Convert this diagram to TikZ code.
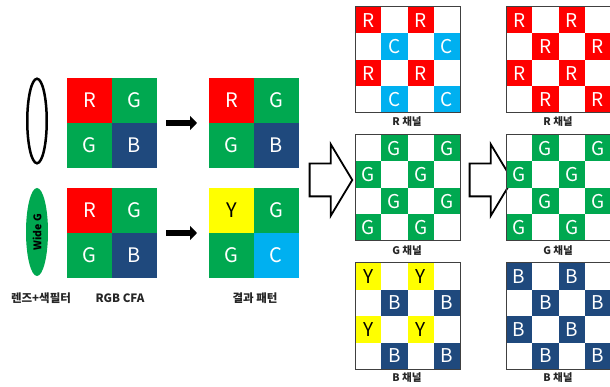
\documentclass[tikz,border=0pt]{standalone}
\usepackage{fontspec}
\setmainfont{Noto Sans CJK KR}
\usetikzlibrary{shapes.geometric,shapes.arrows,arrows.meta}
\definecolor{cR}{RGB}{255,0,0}
\definecolor{cG}{RGB}{0,168,80}
\definecolor{cB}{RGB}{31,73,125}
\definecolor{cY}{RGB}{255,255,0}
\definecolor{cC}{RGB}{0,176,240}
\definecolor{frame}{RGB}{64,64,64}
\tikzset{
  bigcell/.style={minimum width=45pt,minimum height=45pt,inner sep=0pt,outer sep=0pt,
    anchor=north west,font=\fontsize{20}{20}\selectfont},
  smallcell/.style={minimum width=26.25pt,minimum height=26.5pt,inner sep=0pt,outer sep=0pt,
    anchor=north west,font=\fontsize{19}{19}\selectfont},
  blockbox/.style={minimum width=90pt,minimum height=90pt,inner sep=0pt,outer sep=0pt,anchor=north west},
  gridbox/.style={minimum width=105pt,minimum height=106pt,inner sep=0pt,outer sep=0pt,anchor=north west},
  gridborder/.style={draw=frame,line width=1pt},
  blackarrow/.style={line width=6pt,-{Triangle[length=7pt,width=14pt]},shorten <=9pt,shorten >=12pt},
  hollowarrow/.style={single arrow,draw=black,fill=white,line width=1.8pt,inner sep=15.5pt,
    single arrow head extend=19.5pt,single arrow tip angle=118,minimum height=38pt},
  lbl/.style={font=\bfseries\fontsize{11.5}{12}\selectfont,text=black!85,inner sep=0pt},
  chlbl/.style={font=\bfseries\fontsize{10.5}{11}\selectfont,text=black!85,inner sep=0pt},
}
\newcommand\chgrid[4]{%
  \node[gridbox] (#1) at (#2,#3) {};
  \foreach \c/\r/\col/\l/\tc in {#4}{%
    \node[smallcell,fill=\col,text=\tc] (#1-\c-\r) at ({#2+(\c-1)*26.25},{#3+(\r-1)*26.5}) {\l};
  }
  \draw[gridborder] (#1.north west) rectangle (#1.south east);
}
\begin{document}
\begin{tikzpicture}[x=1pt,y=-1pt]
\useasboundingbox (0,0) rectangle (610,387);
\clip (0,0) rectangle (610,387);
\fill[white] (0,0) rectangle (610,387);
% lenses
\node[ellipse,draw=black,line width=2.5pt,minimum width=19.5pt,minimum height=84.5pt,inner sep=0pt] (lens1) at (37,121) {};
\node[ellipse,fill=cG,minimum width=22pt,minimum height=88pt,inner sep=0pt] (lens2) at (37,232) {};
\node[rotate=90,font=\bfseries\fontsize{10.5}{11}\selectfont,inner sep=0pt] (widet) at (lens2.center) {Wide G};
% CFA blocks
\node[blockbox] (cfa1) at (67,78) {};
\node[bigcell,fill=cR,text=white] (cfa1-11) at (67,78) {R};
\node[bigcell,fill=cG,text=white] (cfa1-12) at (112,78) {G};
\node[bigcell,fill=cG,text=white] (cfa1-21) at (67,123) {G};
\node[bigcell,fill=cB,text=white] (cfa1-22) at (112,123) {B};
\node[blockbox] (cfa2) at (67,188) {};
\node[bigcell,fill=cR,text=white] (cfa2-11) at (67,188) {R};
\node[bigcell,fill=cG,text=white] (cfa2-12) at (112,188) {G};
\node[bigcell,fill=cG,text=white] (cfa2-21) at (67,233) {G};
\node[bigcell,fill=cB,text=white] (cfa2-22) at (112,233) {B};
% result blocks
\node[blockbox] (res1) at (209,78) {};
\node[bigcell,fill=cR,text=white] (res1-11) at (209,78) {R};
\node[bigcell,fill=cG,text=white] (res1-12) at (253.5,78) {G};
\node[bigcell,fill=cG,text=white] (res1-21) at (209,123) {G};
\node[bigcell,fill=cB,text=white] (res1-22) at (253.5,123) {B};
\node[blockbox] (res2) at (209,188) {};
\node[bigcell,fill=cY,text=black] (res2-11) at (209,188) {Y};
\node[bigcell,fill=cG,text=white] (res2-12) at (253.5,188) {G};
\node[bigcell,fill=cG,text=white] (res2-21) at (209,233) {G};
\node[bigcell,fill=cC,text=white] (res2-22) at (253.5,233) {C};
% black arrows
\draw[blackarrow] (cfa1) -- (res1);
\draw[blackarrow] (cfa2) -- (res2);
% bottom labels
\node[lbl] (t1) at (41,298) {렌즈+색필터};
\node[lbl] (t2) at (120,298) {RGB CFA};
\node[lbl] (t3) at (255,298) {결과 패턴};
% hollow arrows
\node[hollowarrow] (ha1) at (326,180) {};
\node[hollowarrow] (ha2) at (486,180) {};
% left channel grids
\chgrid{lr}{355}{7}{1/1/cR/R/white,3/1/cR/R/white,2/2/cC/C/white,4/2/cC/C/white,1/3/cR/R/white,3/3/cR/R/white,2/4/cC/C/white,4/4/cC/C/white}
\chgrid{lg}{355}{135}{2/1/cG/G/white,4/1/cG/G/white,1/2/cG/G/white,3/2/cG/G/white,2/3/cG/G/white,4/3/cG/G/white,1/4/cG/G/white,3/4/cG/G/white}
\chgrid{lb}{355}{263}{1/1/cY/Y/black,3/1/cY/Y/black,2/2/cB/B/white,4/2/cB/B/white,1/3/cY/Y/black,3/3/cY/Y/black,2/4/cB/B/white,4/4/cB/B/white}
% right channel grids
\chgrid{rr}{506}{7}{1/1/cR/R/white,3/1/cR/R/white,2/2/cR/R/white,4/2/cR/R/white,1/3/cR/R/white,3/3/cR/R/white,2/4/cR/R/white,4/4/cR/R/white}
\chgrid{rg}{506}{135}{2/1/cG/G/white,4/1/cG/G/white,1/2/cG/G/white,3/2/cG/G/white,2/3/cG/G/white,4/3/cG/G/white,1/4/cG/G/white,3/4/cG/G/white}
\chgrid{rb}{506}{263}{1/1/cB/B/white,3/1/cB/B/white,2/2/cB/B/white,4/2/cB/B/white,1/3/cB/B/white,3/3/cB/B/white,2/4/cB/B/white,4/4/cB/B/white}
% channel labels
\node[chlbl] (llr) at (407,122) {R 채널};
\node[chlbl] (llg) at (407,251) {G 채널};
\node[chlbl] (llb) at (407,378) {B 채널};
\node[chlbl] (lrr) at (558,122) {R 채널};
\node[chlbl] (lrg) at (558,251) {G 채널};
\node[chlbl] (lrb) at (558,378) {B 채널};
\end{tikzpicture}
\end{document}
